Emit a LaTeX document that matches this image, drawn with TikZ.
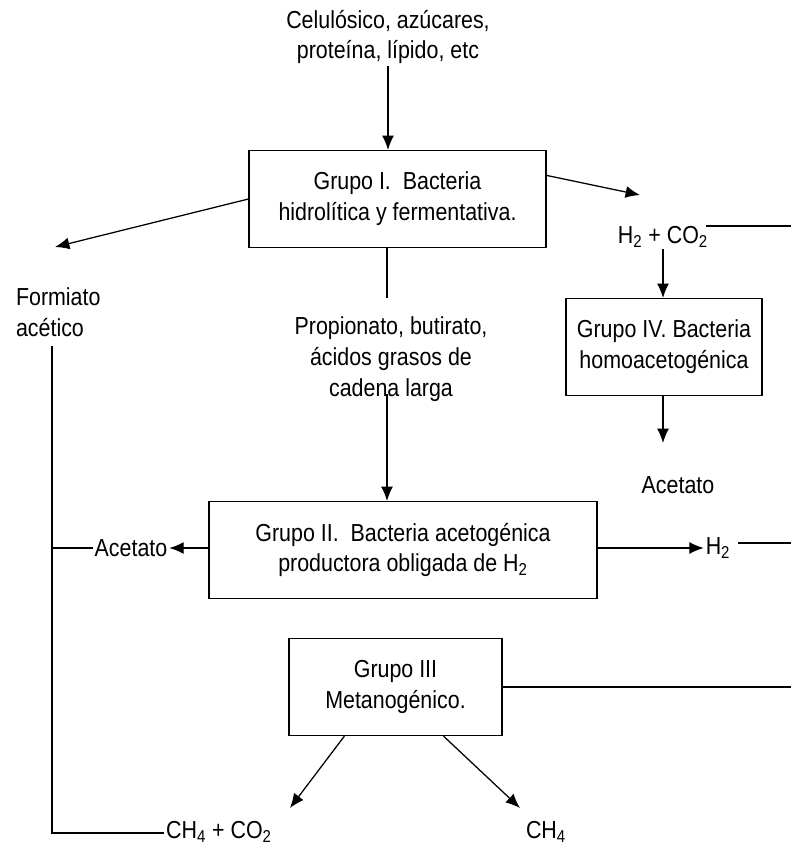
\documentclass[tikz,border=0pt]{standalone}
\usepackage{fontspec}
\setmainfont{Liberation Sans}[FakeStretch=0.87]
\usetikzlibrary{arrows.meta,positioning}

\begin{document}
\begin{tikzpicture}[x=0.025cm, y=-0.025cm, line width=0.9pt, >={Latex[length=3.6mm,width=3mm]},
    every node/.style={font=\fontsize{17.5pt}{22pt}\selectfont},
    grupo/.style={rectangle, draw, align=center, minimum height=2.42cm},
    etiqueta/.style={align=center, inner sep=1pt}]
    \useasboundingbox (0,0) rectangle (791,844);

    % Bacterial groups
    \node[grupo, minimum width=7.42cm] (grpI) at (397.5,199) {Grupo I.~ Bacteria\\hidrolítica y fermentativa.};
    \node[grupo, minimum width=4.9cm] (grpIV) at (664,347) {Grupo IV. Bacteria\\homoacetogénica};
    \node[grupo, minimum width=9.7cm] (grpII) at (403,550) {Grupo II.~ Bacteria acetogénica\\productora obligada de H\textsubscript{2}};
    \node[grupo, minimum width=5.32cm] (grpIII) at (395.5,687) {Grupo III\\Metanogénico.};

    % Substrates and products
    \node[etiqueta] (sustrato) at (388,37) {Celulósico, azúcares,\\proteína, lípido, etc};
    \node[etiqueta, align=left, anchor=west] (formiato) at (14,312) {Formiato\\acético};
    \node[etiqueta] (acidos) at (391,359) {Propionato, butirato,\\ácidos grasos de\\cadena larga};
    \node[etiqueta] (hco) at (663,237) {H\textsubscript{2} + CO\textsubscript{2}};
    \node[etiqueta] (acetIV) at (678,485) {Acetato};
    \node[etiqueta] (acetII) at (131,548) {Acetato};
    \node[etiqueta] (hdos) at (718,548) {H\textsubscript{2}};
    \node[etiqueta] (metco) at (219,832) {CH\textsubscript{4} + CO\textsubscript{2}};
    \node[etiqueta] (metano) at (546,832) {CH\textsubscript{4}};

    % Free ends
    \coordinate (finForm) at (55,247);
    \coordinate (finHco) at (640,195);
    \coordinate (finAcet) at (663,443);
    \coordinate (iniAcidos) at (387,394);
    \coordinate (finAcidos) at (387,298);
    \coordinate (bordeA) at (791,226);
    \coordinate (bordeB) at (791,543);
    \coordinate (bordeC) at (791,688);
    \coordinate (izqA) at (52,346);
    \coordinate (izqB) at (52,833);
    \coordinate (finMetco) at (290,808);
    \coordinate (finMetano) at (520,808);

    % Flows
    \draw[->] (sustrato) -- (sustrato |- grpI.north);
    \draw[->] (grpI.west) -- (finForm);
    \draw[->] (grpI.9) -- (finHco);
    \draw (grpI.south -| finAcidos) -- (finAcidos);
    \draw[->] (iniAcidos) -- (iniAcidos |- grpII.north);
    \draw (hco.east |- bordeA) ++(-4,0) -- (bordeA);
    \draw[->] (hco.south) -- (hco.south |- grpIV.north);
    \draw[->] (grpIV.south -| finAcet) -- (finAcet);
    \draw[->] (grpII.west |- acetII) -- (acetII.east);
    \draw[->] (grpII.east |- hdos) -- (hdos.west);
    \draw (hdos.east |- bordeB) ++(6,0) -- (bordeB);
    \draw (grpIII.east) -- (grpIII.east -| bordeC);
    \draw[->] (grpIII.south west) ++(56,0) -- (finMetco);
    \draw[->] (grpIII.south west) ++(155,0) -- (finMetano);
    \draw (izqA) -- (izqB) -- (izqB -| metco.west);
    \draw (izqA |- acetII) -- (acetII.west);
\end{tikzpicture}
\end{document}
